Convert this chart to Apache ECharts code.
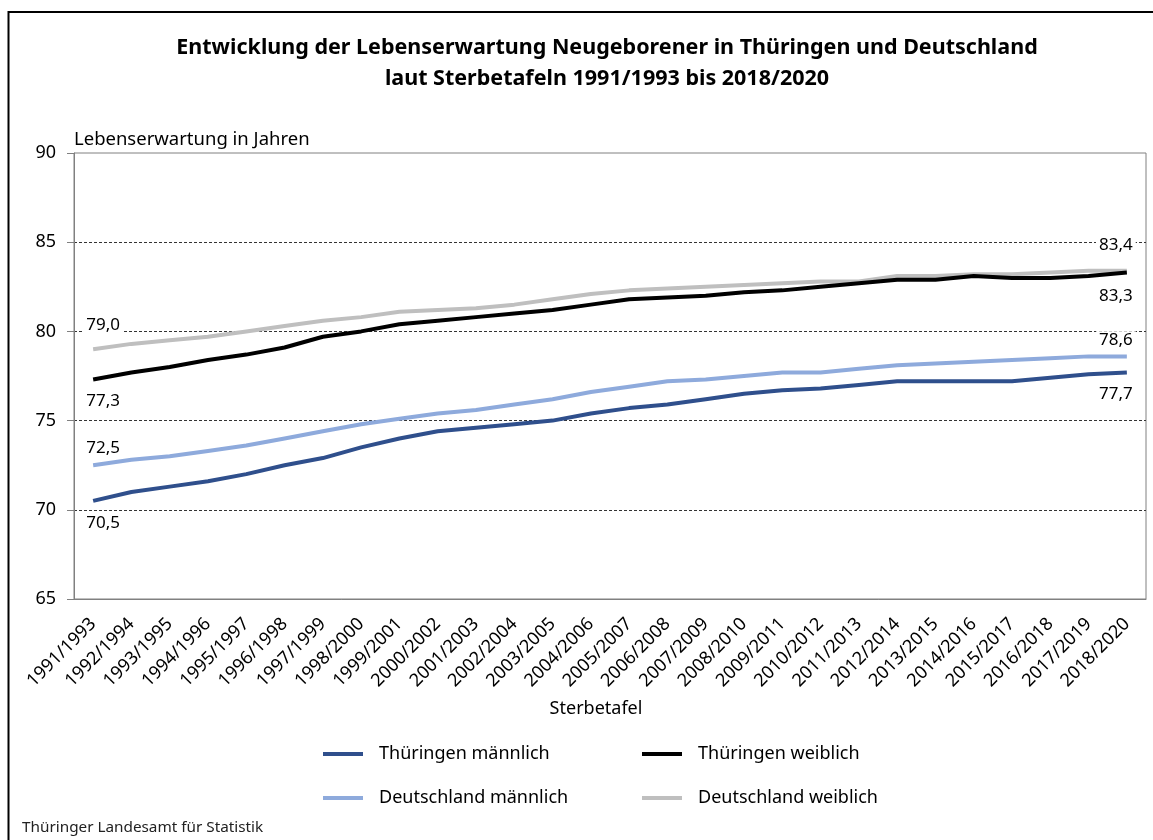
<!DOCTYPE html>
<html>
<head>
<meta charset="utf-8">
<script src="https://cdn.jsdelivr.net/npm/echarts@6/dist/echarts.min.js"></script>
<style>html,body{margin:0;padding:0;background:#fff}#c{width:1153px;height:840px}</style>
</head>
<body>
<div id="c"></div>
<script>
const categories = ['1991/1993','1992/1994','1993/1995','1994/1996','1995/1997','1996/1998','1997/1999','1998/2000','1999/2001','2000/2002','2001/2003','2002/2004','2003/2005','2004/2006','2005/2007','2006/2008','2007/2009','2008/2010','2009/2011','2010/2012','2011/2013','2012/2014','2013/2015','2014/2016','2015/2017','2016/2018','2017/2019','2018/2020'];
const thMaennlich = [70.5,71.0,71.3,71.6,72.0,72.5,72.9,73.5,74.0,74.4,74.6,74.8,75.0,75.4,75.7,75.9,76.2,76.5,76.7,76.8,77.0,77.2,77.2,77.2,77.2,77.4,77.6,77.7];
const thWeiblich  = [77.3,77.7,78.0,78.4,78.7,79.1,79.7,80.0,80.4,80.6,80.8,81.0,81.2,81.5,81.8,81.9,82.0,82.2,82.3,82.5,82.7,82.9,82.9,83.1,83.0,83.0,83.1,83.3];
const deMaennlich = [72.5,72.8,73.0,73.3,73.6,74.0,74.4,74.8,75.1,75.4,75.6,75.9,76.2,76.6,76.9,77.2,77.3,77.5,77.7,77.7,77.9,78.1,78.2,78.3,78.4,78.5,78.6,78.6];
const deWeiblich  = [79.0,79.3,79.5,79.7,80.0,80.3,80.6,80.8,81.1,81.2,81.3,81.5,81.8,82.1,82.3,82.4,82.5,82.6,82.7,82.8,82.8,83.1,83.1,83.2,83.2,83.3,83.4,83.4];
const yTicks = [65,70,75,80,85,90];

const FONT = 'Noto Sans';
const fmt = v => v.toFixed(1).replace('.', ',');

function withEndLabels(arr, above, distFirst, distLast) {
  return arr.map((v, i) => {
    if (i === 0 || i === arr.length - 1) {
      return {
        value: v,
        label: {
          show: true,
          position: above ? 'top' : 'bottom',
          distance: i === 0 ? distFirst : distLast,
          offset: i === 0 ? [10, 0] : [-11, 0],
          formatter: p => fmt(p.value),
          color: '#000',
          fontSize: 17,
          fontFamily: FONT,
          backgroundColor: '#fff',
          padding: [0, 3]
        }
      };
    }
    return v;
  });
}

function lineSeries(name, data, color, z) {
  return {
    name: name, type: 'line', data: data,
    symbol: 'circle', symbolSize: 0.1, showSymbol: true,
    lineStyle: {width: 4, color: color}, itemStyle: {color: color}, z: z
  };
}

const legendCommon = {
  orient: 'vertical', top: 738,
  icon: 'rect', itemWidth: 40, itemHeight: 4, itemGap: 22,
  textStyle: {fontFamily: FONT, fontSize: 18, lineHeight: 22, color: '#000', padding: [0, 0, 0, 11]}
};

const chart = echarts.init(document.getElementById('c'), null, {renderer: 'canvas'});
chart.setOption({
  animation: false,
  backgroundColor: '#fff',
  textStyle: {fontFamily: FONT},
  graphic: [{
    type: 'rect',
    shape: {x: 8.5, y: 12, width: 1200, height: 900},
    style: {fill: 'none', stroke: '#000', lineWidth: 2},
    silent: true
  }],
  title: [{
    text: 'Entwicklung der Lebenserwartung Neugeborener in Thüringen und Deutschland\nlaut Sterbetafeln 1991/1993 bis 2018/2020',
    left: 602, top: 27, textAlign: 'center',
    textStyle: {fontFamily: FONT, fontSize: 21.5, fontWeight: 'bold', color: '#000', lineHeight: 31}
  }, {
    text: 'Sterbetafel',
    left: 591, top: 695, textAlign: 'center',
    textStyle: {fontFamily: FONT, fontSize: 18, fontWeight: 'normal', color: '#000'}
  }, {
    text: 'Thüringer Landesamt für Statistik',
    left: 17, top: 815,
    textStyle: {fontFamily: FONT, fontSize: 15.3, fontWeight: 'normal', color: '#222'}
  }],
  legend: [
    Object.assign({data: ['Thüringen männlich', 'Deutschland männlich'], left: 318}, legendCommon),
    Object.assign({data: ['Thüringen weiblich', 'Deutschland weiblich'], left: 637}, legendCommon)
  ],
  grid: {left: 74, right: 7, top: 153, bottom: 241, show: true, borderColor: '#808080', borderWidth: 1},
  xAxis: {
    type: 'category',
    data: categories,
    boundaryGap: true,
    axisLine: {lineStyle: {color: '#808080', width: 1}},
    axisTick: {show: false},
    axisLabel: {rotate: 45, interval: 0, fontSize: 18, color: '#000', fontFamily: FONT, margin: 22}
  },
  yAxis: {
    type: 'value',
    min: yTicks[0], max: yTicks[yTicks.length - 1], interval: 5,
    name: 'Lebenserwartung in Jahren',
    nameLocation: 'end', nameGap: 4,
    nameTextStyle: {align: 'left', verticalAlign: 'bottom', fontSize: 18.5, color: '#000', fontFamily: FONT},
    axisLine: {show: true, lineStyle: {color: '#808080', width: 1}},
    axisTick: {show: true, length: 7, lineStyle: {color: '#808080'}},
    axisLabel: {fontSize: 18, color: '#000', margin: 18, fontFamily: FONT},
    splitLine: {show: true, lineStyle: {color: ['transparent', '#333', '#333', '#333', '#333', 'transparent'], type: [3, 2], width: 1}}
  },
  series: [
    lineSeries('Thüringen männlich', withEndLabels(thMaennlich, false, 14, 13), '#2f4f8c', 3),
    lineSeries('Thüringen weiblich', withEndLabels(thWeiblich, false, 13, 15), '#000000', 4),
    lineSeries('Deutschland männlich', withEndLabels(deMaennlich, true, 8, 8), '#8eaadc', 2),
    lineSeries('Deutschland weiblich', withEndLabels(deWeiblich, true, 16, 17), '#bfbfbf', 1)
  ]
});
</script>
</body>
</html>
